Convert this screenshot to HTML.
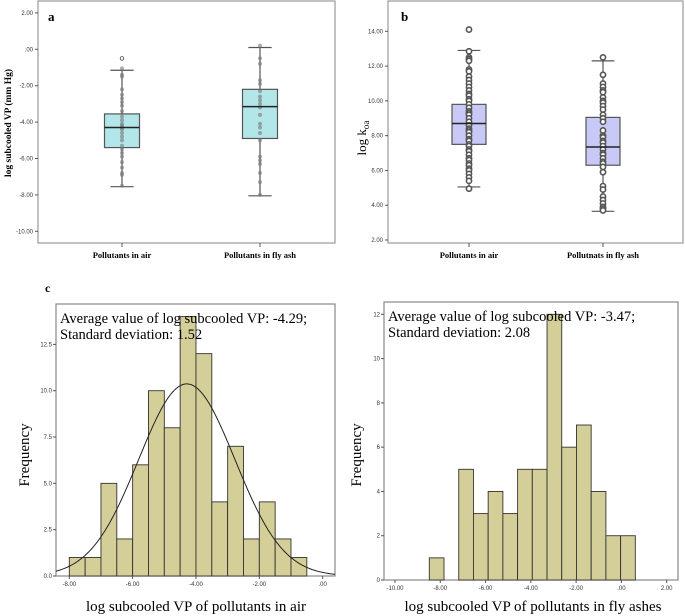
<!DOCTYPE html>
<html><head><meta charset="utf-8"><style>
body{margin:0;background:#fff}
svg{display:block;font-family:"Liberation Serif",serif}
.t{font-family:"Liberation Sans",sans-serif;font-size:6px;fill:#333}
</style></head><body>
<svg id="s" width="685" height="616" viewBox="0 0 685 616" xmlns="http://www.w3.org/2000/svg">
<g id="pa"></g>
<g id="pb"></g>
<g id="pc1"></g>
<g id="pc2"></g>
</svg>
<script>
// Panel a data
const aCats=["Pollutants in air","Pollutants in fly ash"];
const aQ1=[-5.4,-4.9], aQ3=[-3.55,-2.2], aMed=[-4.3,-3.15], aLo=[-7.55,-8.05], aHi=[-1.15,0.1];
const aOut=[[-0.5],[]];
const aPts=[[-1.05,-1.4,-1.5,-2.2,-2.5,-2.7,-2.9,-3.1,-3.4,-3.7,-3.9,-4.1,-4.2,-4.3,-4.4,-4.6,-4.8,-5.0,-5.3,-5.5,-5.7,-5.9,-6.2,-6.5,-6.8,-6.9,-7.5],[0.2,-0.5,-0.8,-1.7,-1.9,-2.3,-2.6,-2.8,-3.0,-3.2,-3.6,-4.1,-4.3,-4.6,-5.0,-5.9,-6.1,-6.3,-6.8,-7.3,-8.0]];
const aTicks=[2,0,-2,-4,-6,-8,-10], aTickLbl=["2.00",".00","-2.00","-4.00","-6.00","-8.00","-10.00"];
// Panel b data
const bCats=["Pollutants in air","Pollutnats in fly ash"];
const bQ1=[7.5,6.3], bQ3=[9.8,9.05], bMed=[8.7,7.35], bLo=[5.05,3.65], bHi=[12.9,12.3];
const bOut=[[14.1,12.85,12.5,12.4,12.3,11.8,11.7,11.4,11.2,11.0,10.8,10.6,10.4,10.3,10.1,10.0,9.8,9.6,9.4,9.3,9.2,9.0,8.8,8.6,8.4,8.3,8.2,8.0,7.8,7.7,7.5,7.4,7.2,7.1,6.9,6.7,6.6,6.4,6.3,6.1,6.0,5.8,5.6,5.4,4.95],[12.5,11.5,11.0,10.8,10.6,10.5,10.2,10.0,9.9,9.7,9.5,9.2,9.0,8.8,8.3,8.0,7.9,7.7,7.6,7.4,7.2,7.0,6.9,6.7,6.5,6.4,6.2,5.9,5.1,4.9,4.5,4.3,4.1,3.9,3.8,3.7]];
const bTicks=[14,12,10,8,6,4,2], bTickLbl=["14.00","12.00","10.00","8.00","6.00","4.00","2.00"];
// Panel c1 data
const c1Start=-8, c1Width=0.5;
const c1Counts=[1,1,5,2,6,10,8,14,12,4,7,2,4,2,1];
const c1Mean=-4.29, c1Sd=1.52;
const c1YTicks=[0,2.5,5,7.5,10,12.5], c1YLbl=["0.0","2.5","5.0","7.5","10.0","12.5"];
const c1XTicks=[-8,-6,-4,-2,0], c1XLbl=["-8.00","-6.00","-4.00","-2.00",".00"];
// Panel c2 data
const c2Start=-8.485, c2Width=0.65;
const c2Counts=[1,0,5,3,4,3,5,5,12,6,7,4,2,2];
const c2YTicks=[0,2,4,6,8,10,12], c2YLbl=["0","2","4","6","8","10","12"];
const c2XTicks=[-10,-8,-6,-4,-2,0,2], c2XLbl=["-10.00","-8.00","-6.00","-4.00","-2.00",".00","2.00"];

const NS="http://www.w3.org/2000/svg";
function el(p,tag,at,txt){const e=document.createElementNS(NS,tag);for(const k in at)e.setAttribute(k,at[k]);if(txt!==undefined)e.textContent=txt;p.appendChild(e);return e;}

function boxPanel(g,o){
  const y=v=>o.y0-(v-o.v0)*o.k;
  const f=el(g,'rect',{x:o.L,y:o.T,width:o.R-o.L,height:o.B-o.T,fill:'none',stroke:'#999','stroke-width':1.2});
  
  o.ticks.forEach((v,i)=>{
    const l=el(g,'line',{x1:o.L-3,x2:o.L,y1:y(v),y2:y(v),stroke:'#555'});
    
    const t=el(g,'text',{x:o.L-5,y:y(v)+2,'text-anchor':'end',class:'t'},o.tl[i]);
    
  });
  o.cats.forEach((c,i)=>{
    const cx=o.cx[i],w=o.bw;
    const tk=el(g,'line',{x1:cx,x2:cx,y1:o.B,y2:o.B+4,stroke:'#555'});
    
    const lb=el(g,'text',{x:cx,y:o.B+15,'text-anchor':'middle','font-size':'8.5','font-weight':'bold'},c);
    
    const wl=el(g,'line',{x1:cx,x2:cx,y1:y(o.hi[i]),y2:y(o.lo[i]),stroke:'#555','stroke-width':1.2});
    
    [o.hi[i],o.lo[i]].forEach(v=>{const cap=el(g,'line',{x1:cx-w/3,x2:cx+w/3,y1:y(v),y2:y(v),stroke:'#555','stroke-width':1.2});
      });
    const bx=el(g,'rect',{x:cx-w/2,y:y(o.q3[i]),width:w,height:y(o.q1[i])-y(o.q3[i]),fill:o.fill,stroke:'#555','stroke-width':1.2});
    
    (o.pts?o.pts[i]:[]).forEach(v=>{const p=el(g,'circle',{cx:cx,cy:y(v),r:2,fill:'#777','fill-opacity':0.6});
      });
    o.out[i].forEach(v=>{const p=el(g,'circle',{cx:cx,cy:y(v),r:o.or,fill:'#fff',stroke:o.os,'stroke-width':o.osw});
      });
    const md=el(g,'line',{x1:cx-w/2,x2:cx+w/2,y1:y(o.med[i]),y2:y(o.med[i]),stroke:'#222','stroke-width':1.5});
    
  });
}

const ga=document.getElementById('pa');
boxPanel(ga,{L:38,R:335,T:1,B:243,y0:49.3,v0:0,k:18.2,ticks:aTicks,tl:aTickLbl,cats:aCats,cx:[122,260],bw:35,q1:aQ1,q3:aQ3,med:aMed,lo:aLo,hi:aHi,out:aOut,pts:aPts,fill:'#b3e6e8',or:1.8,os:'#444',osw:0.8});
let t=el(ga,'text',{x:48,y:21,'font-size':'13','font-weight':'bold'},'a');
t=el(ga,'text',{x:0,y:0,'font-size':'9.5','font-weight':'bold','text-anchor':'middle',transform:'translate(11,123) rotate(-90)'},'log subcooled VP (mm Hg)');

const gb=document.getElementById('pb');
boxPanel(gb,{L:388,R:683,T:1,B:243,y0:240,v0:2,k:17.39,ticks:bTicks,tl:bTickLbl,cats:bCats,cx:[469,603],bw:34,q1:bQ1,q3:bQ3,med:bMed,lo:bLo,hi:bHi,out:bOut,fill:'#c9c9f7',or:2.6,os:'#555',osw:1.6});
t=el(gb,'text',{x:401,y:21,'font-size':'13','font-weight':'bold'},'b');
t=el(gb,'text',{x:0,y:0,'font-size':'13','text-anchor':'middle',transform:'translate(366,138) rotate(-90)'});
t.innerHTML='log k<tspan font-size="9" dy="3">oa</tspan>';

function hist(g,o){
  const x=v=>o.x0+(v-o.xv0)*o.kx, y=v=>o.B-v*o.ky;
  const f=el(g,'rect',{x:o.L,y:o.T,width:o.R-o.L,height:o.B-o.T,fill:'none',stroke:'#888','stroke-width':1.2});
  
  o.counts.forEach((c,i)=>{if(!c)return;const a=o.start+i*o.w;
    const r=el(g,'rect',{x:x(a),y:y(c),width:x(a+o.w)-x(a),height:y(0)-y(c),fill:'#d4cf98',stroke:'#333','stroke-width':0.9});
    });
  o.yt.forEach((v,i)=>{const l=el(g,'line',{x1:o.L-3,x2:o.L,y1:y(v),y2:y(v),stroke:'#555'});
    const tt=el(g,'text',{x:o.L-4,y:y(v)+2,'text-anchor':'end',class:'t'},o.yl[i]);});
  o.xt.forEach((v,i)=>{const l=el(g,'line',{x1:x(v),x2:x(v),y1:o.B,y2:o.B+3,stroke:'#555'});
    const tt=el(g,'text',{x:x(v),y:o.B+10,'text-anchor':'middle',class:'t'},o.xl[i]);});
  if(o.mean!==undefined){const N=o.counts.reduce((a,b)=>a+b,0);let d='';
    for(let px=o.L;px<=o.R;px+=1){const v=o.xv0+(px-o.x0)/o.kx;const fv=N*o.w/(o.sd*Math.sqrt(2*Math.PI))*Math.exp(-0.5*((v-o.mean)/o.sd)**2);d+=(d?'L':'M')+px+','+y(fv).toFixed(2);}
    const p=el(g,'path',{d:d,fill:'none',stroke:'#222','stroke-width':1});}
  let a=el(g,'text',{x:o.L+4,y:o.T+19,'font-size':'14.5'},o.t1);
  a=el(g,'text',{x:o.L+4,y:o.T+35,'font-size':'14.5'},o.t2);
  a=el(g,'text',{x:o.xlx,y:611,'font-size':'15','text-anchor':'middle'},o.xtitle);
  a=el(g,'text',{x:0,y:0,'font-size':'15','text-anchor':'middle',transform:'translate('+o.ytx+',455) rotate(-90)'},'Frequency');
}
const gc1=document.getElementById('pc1');
t=el(gc1,'text',{x:45,y:292,'font-size':'12','font-weight':'bold'},'c');
hist(gc1,{L:56,R:335,T:304,B:576,x0:69.3,xv0:-8,kx:31.67,ky:18.53,start:c1Start,w:c1Width,counts:c1Counts,mean:c1Mean,sd:c1Sd,yt:c1YTicks,yl:c1YLbl,xt:c1XTicks,xl:c1XLbl,
  t1:'Average value of log subcooled VP: -4.29;',t2:'Standard deviation: 1.52',xtitle:'log subcooled VP of pollutants in air',xlx:196,ytx:29});
const gc2=document.getElementById('pc2');
hist(gc2,{L:384,R:678,T:302,B:580,x0:395,xv0:-10,kx:22.64,ky:22.14,start:c2Start,w:c2Width,counts:c2Counts,yt:c2YTicks,yl:c2YLbl,xt:c2XTicks,xl:c2XLbl,
  t1:'Average value of log subcooled VP: -3.47;',t2:'Standard deviation: 2.08',xtitle:'log subcooled VP of pollutants in fly ashes',xlx:533,ytx:361});
</script>
</body></html>
